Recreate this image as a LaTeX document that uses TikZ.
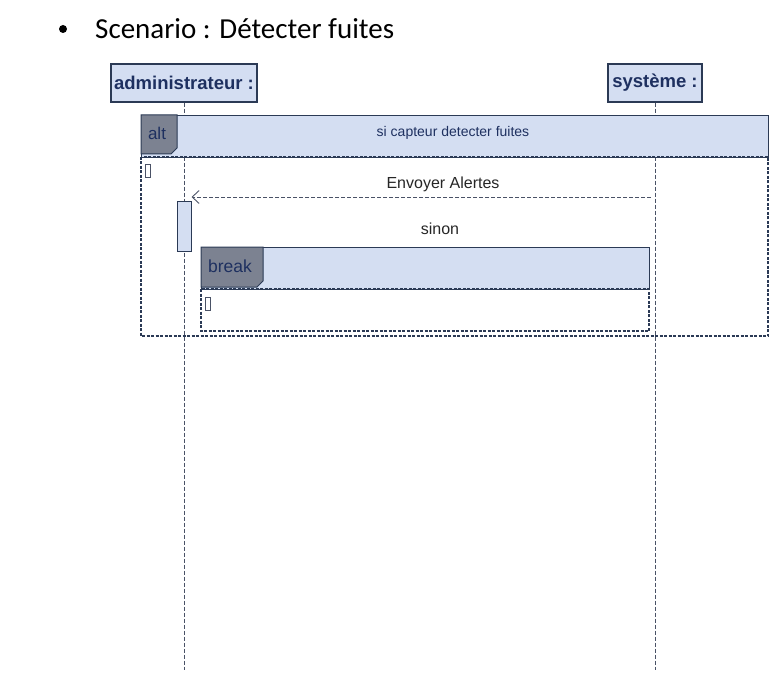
\documentclass[tikz,border=0pt]{standalone}
\usepackage{fontspec}
\setmainfont{Liberation Sans}
\newfontfamily\titlefont{Carlito}
\usepackage{tikz}
\usetikzlibrary{positioning,arrows.meta,calc}
\definecolor{lane}{HTML}{D4DEF2}
\definecolor{edge}{HTML}{2B3A55}
\definecolor{tab}{HTML}{7C8291}
\definecolor{ink}{HTML}{1E3060}
\definecolor{lifegray}{HTML}{4A5266}

\begin{document}
\begin{tikzpicture}[
  x=1pt,y=-1pt,
  head/.style={draw=edge,fill=lane,line width=1.2pt,inner sep=0pt,minimum height=38pt,font=\fontsize{18.5}{20}\selectfont\bfseries,text=ink},
  life/.style={lifegray,line width=0.8pt,dash pattern=on 4pt off 2pt},
  hdr/.style={draw=edge,fill=lane,line width=1.2pt,anchor=north west,inner sep=0pt},
  frag/.style={edge,line width=1.5pt,dash pattern=on 3pt off 1.5pt},
  tabbox/.style={draw=edge,fill=tab,line width=1pt},
  lbl/.style={font=\fontsize{#1}{#1}\selectfont,text=black!85,inner sep=0pt},
  mini/.style={draw=lifegray,fill=white,line width=0.8pt,minimum width=5pt,minimum height=13pt,inner sep=0pt,anchor=north west},
  msg/.style={lifegray,line width=0.9pt,dash pattern=on 4pt off 2pt,-{Straight Barb[length=7pt,width=13pt]}}
]
\useasboundingbox (0,0) rectangle (776,687);
% title line
\node[circle,fill=black,inner sep=0pt,minimum size=8pt] (dot) at (63,29) {};
\node[anchor=west,font=\titlefont\fontsize{29}{30}\selectfont,inner sep=0pt] (title) at (95,29) {Scenario : Détecter fuites};
% lifelines
\node[head,minimum width=146pt] (adm) at (184,83) {administrateur :};
\node[head,minimum width=94pt] (sys) at (655,83) {système :};
\coordinate (admEnd) at (184,670);
\coordinate (sysEnd) at (655,670);
\draw[life] (adm.south) -- (admEnd);
\draw[life] (sys.south) -- (sysEnd);
% alt fragment
\node[hdr,minimum width=627pt,minimum height=42pt] (altH) at (141,115) {};
\draw[frag] (141,157) rectangle (768,336);
\draw[tabbox] (141,115) -- (177,115) -- (177,148) -- (171,154) -- (141,154) -- cycle;
\node[lbl=17,text=ink] (altT) at (157,133) {alt};
\node[lbl=14,text=ink] (cond) at (453,133) {si capteur detecter fuites};
\node[mini] (m1) at (145,164) {};
% message
\node[draw=edge,fill=lane,line width=1pt,minimum width=14pt,minimum height=50pt,inner sep=0pt,anchor=north] (act) at (184,201) {};
\coordinate (src) at (651,197);
\draw[msg] (src) -- (act.north east |- src);
\node[lbl=16] (env) at (443,184) {Envoyer Alertes};
\node[lbl=16] (sinon) at (440,229) {sinon};
% break fragment
\node[hdr,minimum width=448pt,minimum height=42pt] (brkH) at (201,247) {};
\draw[frag] (201,289) rectangle (649,331);
\draw[tabbox] (201,247) -- (263,247) -- (263,281) -- (257,287) -- (201,287) -- cycle;
\node[lbl=17.5,text=ink] (brkT) at (230,266) {break};
\node[mini] (m2) at (205,297) {};
\end{tikzpicture}
\end{document}
